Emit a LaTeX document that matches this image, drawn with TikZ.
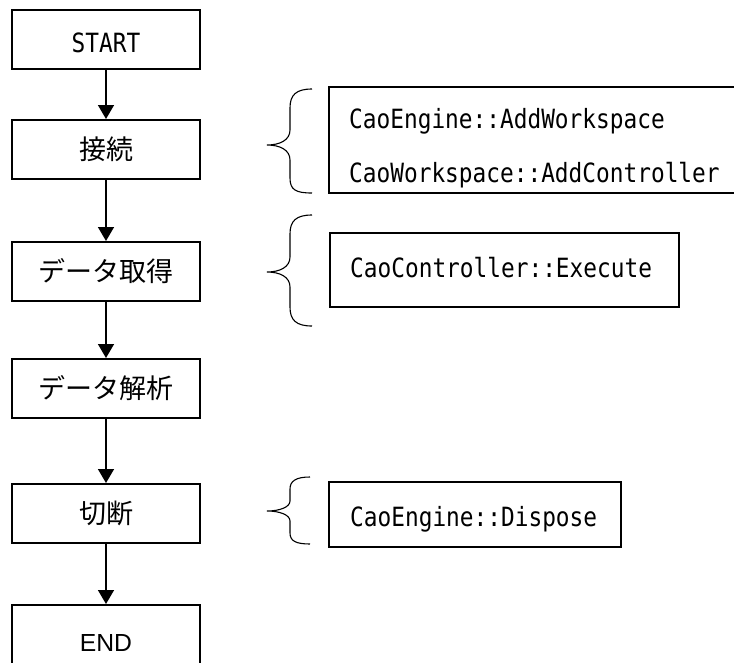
\documentclass[tikz,border=0pt]{standalone}
\usepackage{fontspec}
\setmainfont{Liberation Sans}
\newfontfamily\jpfont{Noto Sans CJK JP}
\newfontfamily\codefont[FakeStretch=0.86]{DejaVu Sans Mono}
\usetikzlibrary{arrows.meta}
\tikzset{
  flowbox/.style={draw, line width=2pt, minimum width=188pt, minimum height=59pt, inner sep=0pt},
  jptext/.style={font=\jpfont\fontsize{27}{27}\selectfont},
  codetext/.style={font=\codefont\fontsize{26.5}{26.5}\selectfont, inner sep=0pt},
  codebox/.style={draw, line width=1.2pt, inner sep=0pt},
  flowarrow/.style={line width=1.5pt, -{Triangle[width=16pt,length=14pt]}},
  bracepath/.style={line width=1.1pt}
}
\begin{document}
\begin{tikzpicture}[x=1pt,y=-1pt]
\useasboundingbox (0,0) rectangle (734,662);
\clip (0,0) rectangle (734,662);
% flow boxes
\node[flowbox] (start) at (106,39.5) {};
\node[codetext, anchor=base] (starttext) at (106,52) {START};
\node[flowbox, jptext] (connect) at (106,149.5) {接続};
\node[flowbox, jptext] (acquire) at (106,271.5) {データ取得};
\node[flowbox, jptext] (analyze) at (106,388.5) {データ解析};
\node[flowbox, jptext] (disconnect) at (106,513.5) {切断};
\node[flowbox, minimum height=75pt] (end) at (106,642.5) {};
\node[font=\fontsize{24.7}{24.7}\selectfont, inner sep=0pt, anchor=base] (endtext) at (106,651) {END};
% arrows
\draw[flowarrow] (start) -- (connect);
\draw[flowarrow] (connect) -- (acquire);
\draw[flowarrow] (acquire) -- (analyze);
\draw[flowarrow] (analyze) -- (disconnect);
\draw[flowarrow] (disconnect) -- (end);
% code boxes
\node[codebox, minimum width=431pt, minimum height=106pt] (box1) at (544.5,140) {};
\node[codetext, anchor=base west] (box1a) at (349,128) {CaoEngine::AddWorkspace};
\node[codetext, anchor=base west] (box1b) at (349,182) {CaoWorkspace::AddController};
\node[codebox, minimum width=349pt, minimum height=74pt] (box2) at (504.5,270) {};
\node[codetext, anchor=base west] (box2a) at (350,277) {CaoController::Execute};
\node[codebox, minimum width=292pt, minimum height=65pt] (box3) at (475,514.5) {};
\node[codetext, anchor=base west] (box3a) at (350,526) {CaoEngine::Dispose};
% braces
\draw[bracepath] (312,89) .. controls (296,89) and (290,95) .. (290,108) -- (290,130)
  .. controls (290,140) and (280,145) .. (267,145)
  .. controls (280,145) and (290,150) .. (290,160) -- (290,178)
  .. controls (290,190) and (296,193) .. (312,193);
\draw[bracepath] (312,215) .. controls (296,215) and (290,221) .. (290,234) -- (290,257)
  .. controls (290,267) and (280,272) .. (267,272)
  .. controls (280,272) and (290,277) .. (290,287) -- (290,307)
  .. controls (290,320) and (296,326) .. (312,326);
\draw[bracepath] (310,477) .. controls (296,477) and (290,481) .. (290,489) -- (290,501)
  .. controls (290,507) and (280,511) .. (267,511)
  .. controls (280,511) and (290,515) .. (290,521) -- (290,533)
  .. controls (290,541) and (296,544) .. (310,544);
\end{tikzpicture}
\end{document}
